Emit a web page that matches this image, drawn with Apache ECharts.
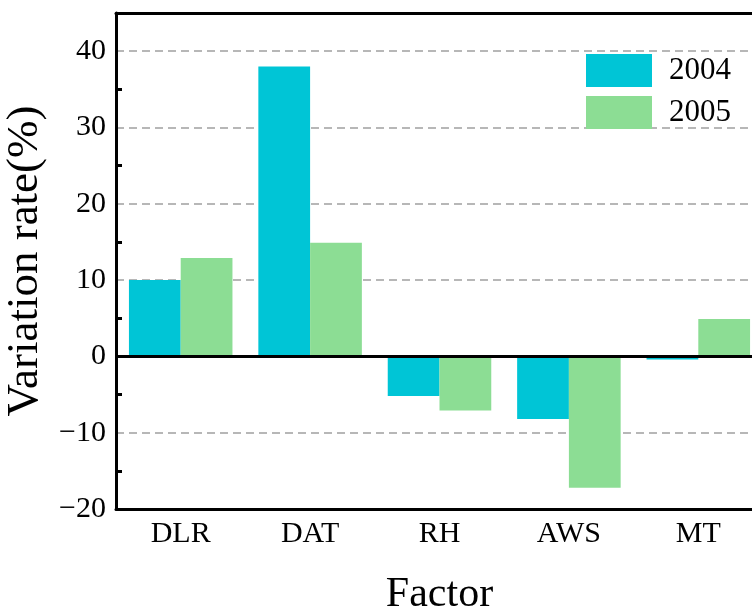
<!DOCTYPE html>
<html>
<head>
<meta charset="utf-8">
<script src="https://cdn.jsdelivr.net/npm/echarts@6/dist/echarts.min.js"></script>
<style>
  html, body { margin: 0; padding: 0; background: #fff; }
  #chart { width: 752px; height: 609px; }
</style>
</head>
<body>
<div id="chart"></div>
<script>
const factors = ['DLR', 'DAT', 'RH', 'AWS', 'MT'];
const rate2004 = [10, 38, -5.2, -8.2, -0.4];
const rate2005 = [12.9, 14.9, -7.1, -17.2, 4.9];
const yTicks = [-20, -10, 0, 10, 20, 30, 40];

const font = 'Liberation Serif, Times New Roman, serif';
const chart = echarts.init(document.getElementById('chart'));

const option = {
  animation: false,
  textStyle: { fontFamily: font, color: '#000' },
  legend: {
    orient: 'vertical',
    left: 581,
    top: 49,
    itemWidth: 66,
    itemHeight: 33,
    itemGap: 9,
    icon: 'rect',
    textStyle: { fontFamily: font, fontSize: 31, color: '#000', padding: [0, 0, 0, 12] },
    data: ['2004', '2005']
  },
  grid: { left: 116, top: 13, width: 647, height: 496, containLabel: false, outerBoundsMode: 'none' },
  xAxis: [
    {
      type: 'category',
      data: factors,
      position: 'bottom',
      name: 'Factor',
      nameLocation: 'middle',
      nameGap: 65,
      nameTextStyle: { fontFamily: font, fontSize: 42, color: '#000' },
      axisLine: { onZero: false, lineStyle: { color: '#000', width: 3 } },
      axisTick: { inside: true, alignWithLabel: true, length: 9, lineStyle: { width: 3, color: '#000' } },
      axisLabel: { fontFamily: font, fontSize: 30, color: '#000', margin: 10 }
    },
    {
      type: 'category',
      data: factors,
      position: 'top',
      axisLine: { onZero: false, lineStyle: { color: '#000', width: 3 } },
      axisTick: { inside: true, alignWithLabel: true, length: 8, lineStyle: { width: 3, color: '#000' } },
      axisLabel: { show: false }
    }
  ],
  yAxis: {
    type: 'value',
    min: -20,
    max: 45,
    interval: 10,
    name: 'Variation rate(%)',
    nameLocation: 'middle',
    nameGap: 55,
    nameTextStyle: { fontFamily: font, fontSize: 45, color: '#000' },
    axisLine: { show: true, lineStyle: { color: '#000', width: 3 } },
    axisTick: { inside: true, length: 10, lineStyle: { width: 3, color: '#000' } },
    minorTick: { show: true, splitNumber: 2, length: 6, lineStyle: { width: 3, color: '#000' } },
    axisLabel: {
      fontFamily: font, fontSize: 30, color: '#000', margin: 10,
      formatter: v => yTicks.includes(v) ? (v < 0 ? '\u2212' + Math.abs(v) : String(v)) : ''
    },
    splitLine: { show: true, lineStyle: { color: '#a0a0a0', width: 1.5, type: [8, 5] } }
  },
  series: [
    {
      name: '2004',
      type: 'bar',
      data: rate2004,
      barWidth: '40%',
      barGap: '0%',
      itemStyle: { color: '#00c5d6' },
      markLine: {
        silent: true,
        symbol: 'none',
        label: { show: false },
        lineStyle: { color: '#000', width: 3, type: 'solid' },
        data: [{ yAxis: 0 }]
      }
    },
    {
      name: '2005',
      type: 'bar',
      data: rate2005,
      barWidth: '40%',
      barGap: '0%',
      itemStyle: { color: '#8cdd94' }
    }
  ]
};

chart.setOption(option);
</script>
</body>
</html>
